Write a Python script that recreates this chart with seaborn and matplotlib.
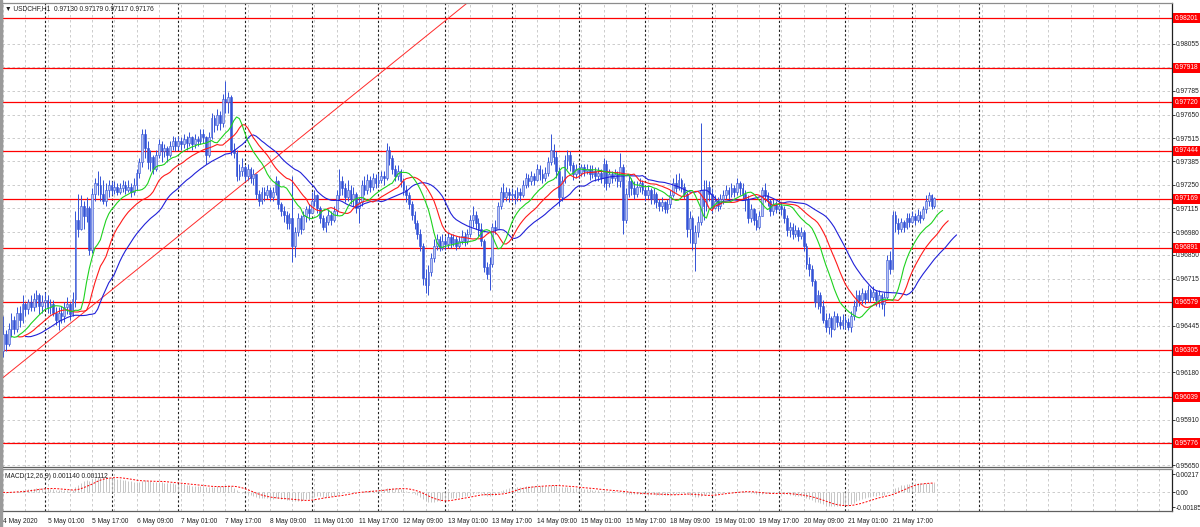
import numpy as np
import pandas as pd
import matplotlib
matplotlib.use("Agg")
import matplotlib.pyplot as plt
import matplotlib.transforms as mtransforms
import seaborn as sns

# ------------------------------------------------------------------
# USDCHF H1 bars, 4 May 09:00 -> 22 May 08:00 (one row per trading day)
# ------------------------------------------------------------------
FIRST_OPEN = 0.9630

closes = [
    0.9640, 0.9634, 0.9643, 0.9648, 0.9643, 0.9652, 0.9648, 0.9657, 0.9654, 0.9658, 0.9655, 0.9660, 0.9662, 0.9656, 0.9658,
    0.9659, 0.9655, 0.9657, 0.9652, 0.9648, 0.9652, 0.9650, 0.9655, 0.9657, 0.9651, 0.9660, 0.9705, 0.9700, 0.9713, 0.9707, 0.9712, 0.9688, 0.9720, 0.9726, 0.9725, 0.9720, 0.9716, 0.9722, 0.9725,
    0.9722, 0.9724, 0.9721, 0.9723, 0.9725, 0.9722, 0.9724, 0.9721, 0.9725, 0.9732, 0.9738, 0.9754, 0.9746, 0.9738, 0.9741, 0.9734, 0.9742, 0.9748, 0.9744, 0.9746, 0.9742, 0.9747, 0.9750, 0.9747,
    0.9750, 0.9748, 0.9751, 0.9749, 0.9752, 0.9748, 0.9751, 0.9750, 0.9754, 0.9752, 0.9742, 0.9752, 0.9763, 0.9759, 0.9765, 0.9760, 0.9774, 0.9772, 0.9775, 0.9745, 0.9743, 0.9730, 0.9733, 0.9735,
    0.9730, 0.9734, 0.9729, 0.9731, 0.9720, 0.9716, 0.9721, 0.9719, 0.9722, 0.9718, 0.9721, 0.9727, 0.9714, 0.9710, 0.9708, 0.9703, 0.9706, 0.9690, 0.9698, 0.9706, 0.9700, 0.9707, 0.9711, 0.9709,
    0.9716, 0.9719, 0.9712, 0.9706, 0.9701, 0.9704, 0.9708, 0.9705, 0.9710, 0.9719, 0.9727, 0.9723, 0.9718, 0.9722, 0.9717, 0.9720, 0.9712, 0.9715, 0.9725, 0.9722, 0.9728, 0.9724, 0.9729, 0.9726,
    0.9728, 0.9730, 0.9729, 0.9745, 0.9740, 0.9734, 0.9730, 0.9733, 0.9727, 0.9722, 0.9719, 0.9714, 0.9708, 0.9703, 0.9697, 0.9690, 0.9672, 0.9668, 0.9675, 0.9683, 0.9690, 0.9694, 0.9689, 0.9693,
    0.9691, 0.9695, 0.9692, 0.9694, 0.9690, 0.9693, 0.9696, 0.9693, 0.9697, 0.9705, 0.9708, 0.9703, 0.9700, 0.9693, 0.9678, 0.9674, 0.9680, 0.9701, 0.9700, 0.9713, 0.9721, 0.9718, 0.9721, 0.9719,
    0.9720, 0.9718, 0.9721, 0.9719, 0.9725, 0.9729, 0.9727, 0.9730, 0.9728, 0.9734, 0.9731, 0.9729, 0.9732, 0.9738, 0.9745, 0.9741, 0.9733, 0.9718, 0.9727, 0.9739, 0.9742, 0.9736, 0.9731, 0.9734,
    0.9732, 0.9735, 0.9733, 0.9734, 0.9731, 0.9733, 0.9730, 0.9732, 0.9729, 0.9737, 0.9726, 0.9731, 0.9729, 0.9731, 0.9727, 0.9735, 0.9705, 0.9720, 0.9727, 0.9723, 0.9720, 0.9724, 0.9726, 0.9722,
    0.9719, 0.9722, 0.9717, 0.9720, 0.9715, 0.9713, 0.9715, 0.9711, 0.9714, 0.9719, 0.9726, 0.9723, 0.9728, 0.9724, 0.9720, 0.9700, 0.9706, 0.9692, 0.9698, 0.9704, 0.9722, 0.9713, 0.9724, 0.9720,
    0.9712, 0.9716, 0.9713, 0.9717, 0.9719, 0.9722, 0.9720, 0.9723, 0.9721, 0.9726, 0.9723, 0.9720, 0.9717, 0.9706, 0.9711, 0.9705, 0.9701, 0.9707, 0.9722, 0.9719, 0.9716, 0.9710, 0.9714, 0.9711,
    0.9713, 0.9711, 0.9706, 0.9699, 0.9701, 0.9697, 0.9699, 0.9696, 0.9698, 0.9690, 0.9680, 0.9677, 0.9670, 0.9658, 0.9662, 0.9656, 0.9648, 0.9644, 0.9649, 0.9643, 0.9650, 0.9647, 0.9645, 0.9648,
    0.9647, 0.9644, 0.9650, 0.9656, 0.9662, 0.9659, 0.9663, 0.9660, 0.9665, 0.9661, 0.9664, 0.9659, 0.9662, 0.9657, 0.9661, 0.9682, 0.9677, 0.9708, 0.9703, 0.9700, 0.9704, 0.9701, 0.9706, 0.9704,
    0.9707, 0.9705, 0.9708, 0.9706, 0.9711, 0.9716, 0.9719, 0.9713, 0.97176,
]

highs = [
    0.9650, 0.9642, 0.9646, 0.9652, 0.9650, 0.9655, 0.9656, 0.9662, 0.9658, 0.9660, 0.9662, 0.9663, 0.9665, 0.9663, 0.9662,
    0.9664, 0.9662, 0.9660, 0.9659, 0.9655, 0.9655, 0.9656, 0.9658, 0.9661, 0.9658, 0.9664, 0.9710, 0.9720, 0.9719, 0.9716, 0.9718, 0.9713, 0.9723, 0.9729, 0.9733, 0.9730, 0.9728, 0.9726, 0.9728,
    0.9727, 0.9727, 0.9726, 0.9726, 0.9728, 0.9727, 0.9728, 0.9726, 0.9729, 0.9734, 0.9740, 0.9757, 0.9757, 0.9750, 0.9745, 0.9742, 0.9745, 0.9751, 0.9750, 0.9748, 0.9747, 0.9750, 0.9753, 0.9752,
    0.9753, 0.9752, 0.9754, 0.9753, 0.9755, 0.9753, 0.9754, 0.9753, 0.9757, 0.9757, 0.9753, 0.9755, 0.9766, 0.9765, 0.9768, 0.9767, 0.9777, 0.9784, 0.9778, 0.9776, 0.9749, 0.9745, 0.9737, 0.9740,
    0.9736, 0.9737, 0.9735, 0.9734, 0.9730, 0.9722, 0.9724, 0.9724, 0.9725, 0.9724, 0.9724, 0.9730, 0.9728, 0.9715, 0.9713, 0.9710, 0.9709, 0.9730, 0.9701, 0.9709, 0.9708, 0.9710, 0.9713, 0.9714,
    0.9721, 0.9722, 0.9720, 0.9713, 0.9708, 0.9707, 0.9711, 0.9710, 0.9713, 0.9722, 0.9734, 0.9730, 0.9726, 0.9728, 0.9725, 0.9724, 0.9721, 0.9718, 0.9728, 0.9730, 0.9731, 0.9730, 0.9732, 0.9731,
    0.9732, 0.9733, 0.9733, 0.9749, 0.9747, 0.9742, 0.9736, 0.9736, 0.9734, 0.9729, 0.9725, 0.9721, 0.9716, 0.9710, 0.9705, 0.9700, 0.9692, 0.9677, 0.9679, 0.9686, 0.9694, 0.9697, 0.9696, 0.9697,
    0.9696, 0.9698, 0.9697, 0.9697, 0.9696, 0.9696, 0.9699, 0.9698, 0.9700, 0.9708, 0.9713, 0.9710, 0.9706, 0.9703, 0.9694, 0.9681, 0.9684, 0.9703, 0.9705, 0.9715, 0.9724, 0.9726, 0.9724, 0.9723,
    0.9723, 0.9722, 0.9724, 0.9723, 0.9728, 0.9732, 0.9731, 0.9733, 0.9732, 0.9737, 0.9736, 0.9734, 0.9735, 0.9741, 0.9754, 0.9748, 0.9744, 0.9735, 0.9730, 0.9742, 0.9745, 0.9744, 0.9738, 0.9737,
    0.9736, 0.9737, 0.9737, 0.9737, 0.9736, 0.9736, 0.9735, 0.9735, 0.9734, 0.9740, 0.9739, 0.9734, 0.9733, 0.9734, 0.9733, 0.9743, 0.9737, 0.9723, 0.9730, 0.9729, 0.9727, 0.9727, 0.9729, 0.9728,
    0.9724, 0.9725, 0.9723, 0.9723, 0.9721, 0.9717, 0.9718, 0.9716, 0.9717, 0.9722, 0.9729, 0.9731, 0.9732, 0.9729, 0.9726, 0.9721, 0.9710, 0.9707, 0.9702, 0.9707, 0.9760, 0.9728, 0.9728, 0.9727,
    0.9723, 0.9719, 0.9718, 0.9720, 0.9722, 0.9725, 0.9724, 0.9726, 0.9725, 0.9729, 0.9727, 0.9726, 0.9722, 0.9719, 0.9714, 0.9712, 0.9709, 0.9710, 0.9724, 0.9726, 0.9721, 0.9717, 0.9717, 0.9716,
    0.9716, 0.9715, 0.9713, 0.9708, 0.9704, 0.9703, 0.9702, 0.9701, 0.9701, 0.9699, 0.9692, 0.9684, 0.9679, 0.9671, 0.9665, 0.9664, 0.9659, 0.9652, 0.9652, 0.9650, 0.9653, 0.9652, 0.9650, 0.9651,
    0.9650, 0.9649, 0.9653, 0.9659, 0.9665, 0.9665, 0.9666, 0.9665, 0.9668, 0.9666, 0.9667, 0.9665, 0.9665, 0.9663, 0.9664, 0.9685, 0.9687, 0.9710, 0.9710, 0.9706, 0.9706, 0.9705, 0.9709, 0.9709,
    0.9710, 0.9709, 0.9711, 0.9710, 0.9713, 0.9719, 0.9721, 0.9720, 0.97179,
]

lows = [
    0.9627, 0.9630, 0.9633, 0.9638, 0.9640, 0.9641, 0.9644, 0.9646, 0.9650, 0.9651, 0.9653, 0.9653, 0.9655, 0.9651, 0.9652,
    0.9654, 0.9652, 0.9651, 0.9650, 0.9645, 0.9642, 0.9646, 0.9647, 0.9651, 0.9648, 0.9650, 0.9655, 0.9695, 0.9699, 0.9700, 0.9704, 0.9685, 0.9686, 0.9716, 0.9719, 0.9716, 0.9714, 0.9713, 0.9718,
    0.9719, 0.9720, 0.9719, 0.9720, 0.9721, 0.9720, 0.9721, 0.9718, 0.9719, 0.9722, 0.9729, 0.9735, 0.9740, 0.9734, 0.9733, 0.9731, 0.9733, 0.9740, 0.9738, 0.9741, 0.9738, 0.9741, 0.9745, 0.9744,
    0.9745, 0.9745, 0.9746, 0.9745, 0.9747, 0.9745, 0.9746, 0.9747, 0.9748, 0.9749, 0.9737, 0.9741, 0.9751, 0.9755, 0.9756, 0.9756, 0.9758, 0.9766, 0.9766, 0.9742, 0.9740, 0.9727, 0.9728, 0.9730,
    0.9727, 0.9728, 0.9726, 0.9725, 0.9717, 0.9713, 0.9714, 0.9716, 0.9717, 0.9716, 0.9716, 0.9719, 0.9711, 0.9707, 0.9704, 0.9700, 0.9700, 0.9681, 0.9684, 0.9696, 0.9697, 0.9699, 0.9704, 0.9705,
    0.9712, 0.9713, 0.9709, 0.9703, 0.9699, 0.9698, 0.9702, 0.9702, 0.9704, 0.9708, 0.9717, 0.9719, 0.9715, 0.9716, 0.9714, 0.9713, 0.9709, 0.9703, 0.9713, 0.9719, 0.9720, 0.9721, 0.9722, 0.9723,
    0.9724, 0.9726, 0.9725, 0.9728, 0.9736, 0.9731, 0.9727, 0.9728, 0.9724, 0.9719, 0.9715, 0.9711, 0.9705, 0.9700, 0.9694, 0.9687, 0.9668, 0.9663, 0.9662, 0.9673, 0.9681, 0.9688, 0.9687, 0.9688,
    0.9688, 0.9689, 0.9689, 0.9690, 0.9688, 0.9689, 0.9691, 0.9690, 0.9691, 0.9695, 0.9701, 0.9700, 0.9696, 0.9690, 0.9675, 0.9671, 0.9665, 0.9678, 0.9697, 0.9700, 0.9711, 0.9715, 0.9716, 0.9715,
    0.9716, 0.9714, 0.9716, 0.9716, 0.9718, 0.9723, 0.9724, 0.9725, 0.9725, 0.9727, 0.9728, 0.9726, 0.9727, 0.9730, 0.9736, 0.9737, 0.9729, 0.9713, 0.9716, 0.9726, 0.9734, 0.9733, 0.9728, 0.9729,
    0.9729, 0.9730, 0.9730, 0.9731, 0.9728, 0.9729, 0.9727, 0.9727, 0.9726, 0.9724, 0.9722, 0.9724, 0.9726, 0.9727, 0.9724, 0.9724, 0.9697, 0.9703, 0.9718, 0.9719, 0.9717, 0.9718, 0.9721, 0.9720,
    0.9716, 0.9717, 0.9714, 0.9714, 0.9712, 0.9710, 0.9710, 0.9709, 0.9709, 0.9712, 0.9718, 0.9721, 0.9722, 0.9721, 0.9717, 0.9695, 0.9692, 0.9688, 0.9676, 0.9695, 0.9702, 0.9705, 0.9710, 0.9716,
    0.9709, 0.9711, 0.9710, 0.9711, 0.9714, 0.9717, 0.9717, 0.9718, 0.9718, 0.9719, 0.9719, 0.9717, 0.9710, 0.9703, 0.9704, 0.9702, 0.9699, 0.9700, 0.9707, 0.9715, 0.9713, 0.9707, 0.9708, 0.9709,
    0.9710, 0.9708, 0.9703, 0.9696, 0.9695, 0.9694, 0.9695, 0.9693, 0.9694, 0.9687, 0.9677, 0.9673, 0.9667, 0.9655, 0.9654, 0.9652, 0.9646, 0.9641, 0.9640, 0.9638, 0.9642, 0.9644, 0.9643, 0.9643,
    0.9643, 0.9642, 0.9641, 0.9648, 0.9653, 0.9656, 0.9657, 0.9657, 0.9658, 0.9658, 0.9659, 0.9656, 0.9655, 0.9654, 0.9650, 0.9660, 0.9674, 0.9677, 0.9698, 0.9697, 0.9698, 0.9698, 0.9700, 0.9701,
    0.9703, 0.9702, 0.9704, 0.9703, 0.9705, 0.9709, 0.9713, 0.9711, 0.97117,
]

# horizontal support / resistance levels and the trend line anchors
levels = [0.98201, 0.97918, 0.97720, 0.97444, 0.97169, 0.96891, 0.96579, 0.96305, 0.96039, 0.95776]
trend_bars = [0, 100]
trend_prices = [0.9615, 0.9743]

price_ticks = [0.98055, 0.97920, 0.97785, 0.97650, 0.97515, 0.97385, 0.97250, 0.97115, 0.96980,
               0.96850, 0.96715, 0.96580, 0.96445, 0.96310, 0.96180, 0.96045, 0.95910, 0.95780, 0.95650]
macd_ticks = [0.00217, 0.0, -0.00185]
macd_tick_labels = ["0.00217", "0.00", "-0.00185"]

date_labels = ["4 May 2020", "5 May 01:00", "5 May 17:00", "6 May 09:00", "7 May 01:00", "7 May 17:00",
               "8 May 09:00", "11 May 01:00", "11 May 17:00", "12 May 09:00", "13 May 01:00", "13 May 17:00",
               "14 May 09:00", "15 May 01:00", "15 May 17:00", "18 May 09:00", "19 May 01:00", "19 May 17:00",
               "20 May 09:00", "21 May 01:00", "21 May 17:00"]

assert len(closes) == len(highs) == len(lows) == 336

# ------------------------------------------------------------------
# Frame
# ------------------------------------------------------------------
bars = pd.DataFrame({"close": closes, "high": highs, "low": lows})
bars["open"] = [FIRST_OPEN] + closes[:-1]
bars["high"] = bars[["high", "open", "close"]].max(axis=1)
bars["low"] = bars[["low", "open", "close"]].min(axis=1)
bars["bar"] = np.arange(len(bars))

# Alligator (SMMA of median price, shifted forward) and MACD(12,26,9)
median = (bars["high"] + bars["low"]) / 2
alligator = [(13, 8, "#2020d8"), (8, 5, "#ff1a1a"), (5, 3, "#1ed21e")]
ema12 = bars["close"].ewm(span=12, adjust=False).mean()
ema26 = bars["close"].ewm(span=26, adjust=False).mean()
macd_main = ema12 - ema26
macd_signal = macd_main.rolling(9, min_periods=1).mean()

# ------------------------------------------------------------------
# Style
# ------------------------------------------------------------------
sns.set_style("white")
FS = 4.8
plt.rcParams["font.family"] = ["Liberation Sans", "DejaVu Sans"]
plt.rcParams["font.size"] = FS

W, H = 1200, 527
fig = plt.figure(figsize=(12, 5.27), dpi=100)


def px_axes(x0, y0, x1, y1):
    return fig.add_axes([x0 / W, 1 - y1 / H, (x1 - x0) / W, (y1 - y0) / H])


ax = px_axes(2, 3, 1172, 467)
axm = px_axes(2, 469, 1172, 511)

XMIN, XMAX = -0.4, 420.5
GRID = "#c4c4c4"

for a in (ax, axm):
    a.set_xlim(XMIN, XMAX)
    for k in range(0, 53):
        a.axvline(8 * k, color=GRID, lw=0.6, ls=(0, (3, 3)), zorder=0)
    for k in range(0, 15):
        a.axvline(15 + 24 * k, color="#202020", lw=0.8, ls=(0, (2, 2)), zorder=1)
    for side in ("top", "left"):
        a.spines[side].set_color("#8c8c8c")
    a.spines["right"].set_color("#202020")
    a.spines["bottom"].set_color("#606060")
    for s in a.spines.values():
        s.set_linewidth(0.9)

# ------------------------------------------------------------------
# Price panel
# ------------------------------------------------------------------
ax.set_ylim(0.95640, 0.98287)
for t in price_ticks:
    ax.axhline(t, color=GRID, lw=0.6, ls=(0, (3, 3)), zorder=0)

for lvl in levels:
    ax.axhline(lvl, color="#ff0000", lw=0.9, zorder=2)

ax.axline((trend_bars[0], trend_prices[0]), (trend_bars[1], trend_prices[1]),
          color="#ff2a2a", lw=0.7, zorder=2)

up = bars["close"] >= bars["open"]
body_lo = bars[["open", "close"]].min(axis=1)
body_h = (bars["close"] - bars["open"]).abs().clip(lower=0.00003)
ax.vlines(bars["bar"], bars["low"], bars["high"], color="#3352d6", lw=0.7, zorder=3)
ax.bar(bars["bar"][up], body_h[up], bottom=body_lo[up], width=0.62,
       color="#b9c4f2", edgecolor="#3352d6", linewidth=0.4, zorder=3)
ax.bar(bars["bar"][~up], body_h[~up], bottom=body_lo[~up], width=0.62,
       color="#3352d6", edgecolor="#3352d6", linewidth=0.4, zorder=3)

for period, shift, color in alligator:
    line = median.ewm(alpha=1 / period, adjust=False).mean()
    sns.lineplot(x=bars["bar"] + shift, y=line, ax=ax, color=color, lw=0.8,
                 estimator=None, zorder=4)

ax.set_xlabel("")
ax.set_ylabel("")
ax.set_xticks([])
ax.yaxis.tick_right()
ax.set_yticks(price_ticks)
ax.set_yticklabels(["" if min(abs(t - l) for l in levels) < 0.0004 else f"{t:.5f}" for t in price_ticks])
ax.tick_params(axis="y", length=2, width=0.6, pad=0.8, labelsize=FS, colors="#202020")

blend = mtransforms.blended_transform_factory(ax.transAxes, ax.transData)
for lvl in levels:
    ax.text(1 + 3 / 1170, lvl, f"{lvl:.5f}", transform=blend, ha="left", va="center",
            color="white", fontsize=FS, clip_on=False, zorder=10,
            bbox=dict(boxstyle="square,pad=0.25", fc="#ff0000", ec="none"))

# ------------------------------------------------------------------
# MACD panel
# ------------------------------------------------------------------
axm.set_ylim(-0.00228, 0.00284)
axm.axhline(0, color=GRID, lw=0.6, ls=(0, (3, 3)), zorder=0)
axm.vlines(bars["bar"], 0, macd_main, color="#bdbdbd", lw=0.6, zorder=2)
sns.lineplot(x=bars["bar"], y=macd_signal, ax=axm, color="#ff0000", lw=0.7,
             ls=(0, (2, 1.5)), estimator=None, zorder=3)
axm.set_ylabel("")
axm.set_xlabel("")
axm.yaxis.tick_right()
axm.set_yticks(macd_ticks)
axm.set_yticklabels(macd_tick_labels)
axm.tick_params(axis="y", length=2, width=0.6, pad=0.8, labelsize=FS, colors="#202020")

axm.set_xticks(np.arange(len(date_labels)) * 16)
axm.set_xticklabels(date_labels, ha="left")
axm.tick_params(axis="x", length=3, width=0.6, pad=2, labelsize=FS, colors="#202020")

# ------------------------------------------------------------------
# Texts and window frame
# ------------------------------------------------------------------
fig.text(5 / W, 1 - 8.5 / H, "\u25bc USDCHF,H1  0.97130 0.97179 0.97117 0.97176",
         fontsize=FS, va="center", ha="left", color="#202020")
fig.text(5 / W, 1 - 477 / H, "MACD(12,26,9) 0.001140 0.001112",
         fontsize=FS, va="center", ha="left", color="#202020")
fig.add_artist(plt.Rectangle((0, 0), 2 / W, 1, transform=fig.transFigure,
                             color="#9a9a9a", zorder=20))

fig.savefig("out.png", dpi=100)
